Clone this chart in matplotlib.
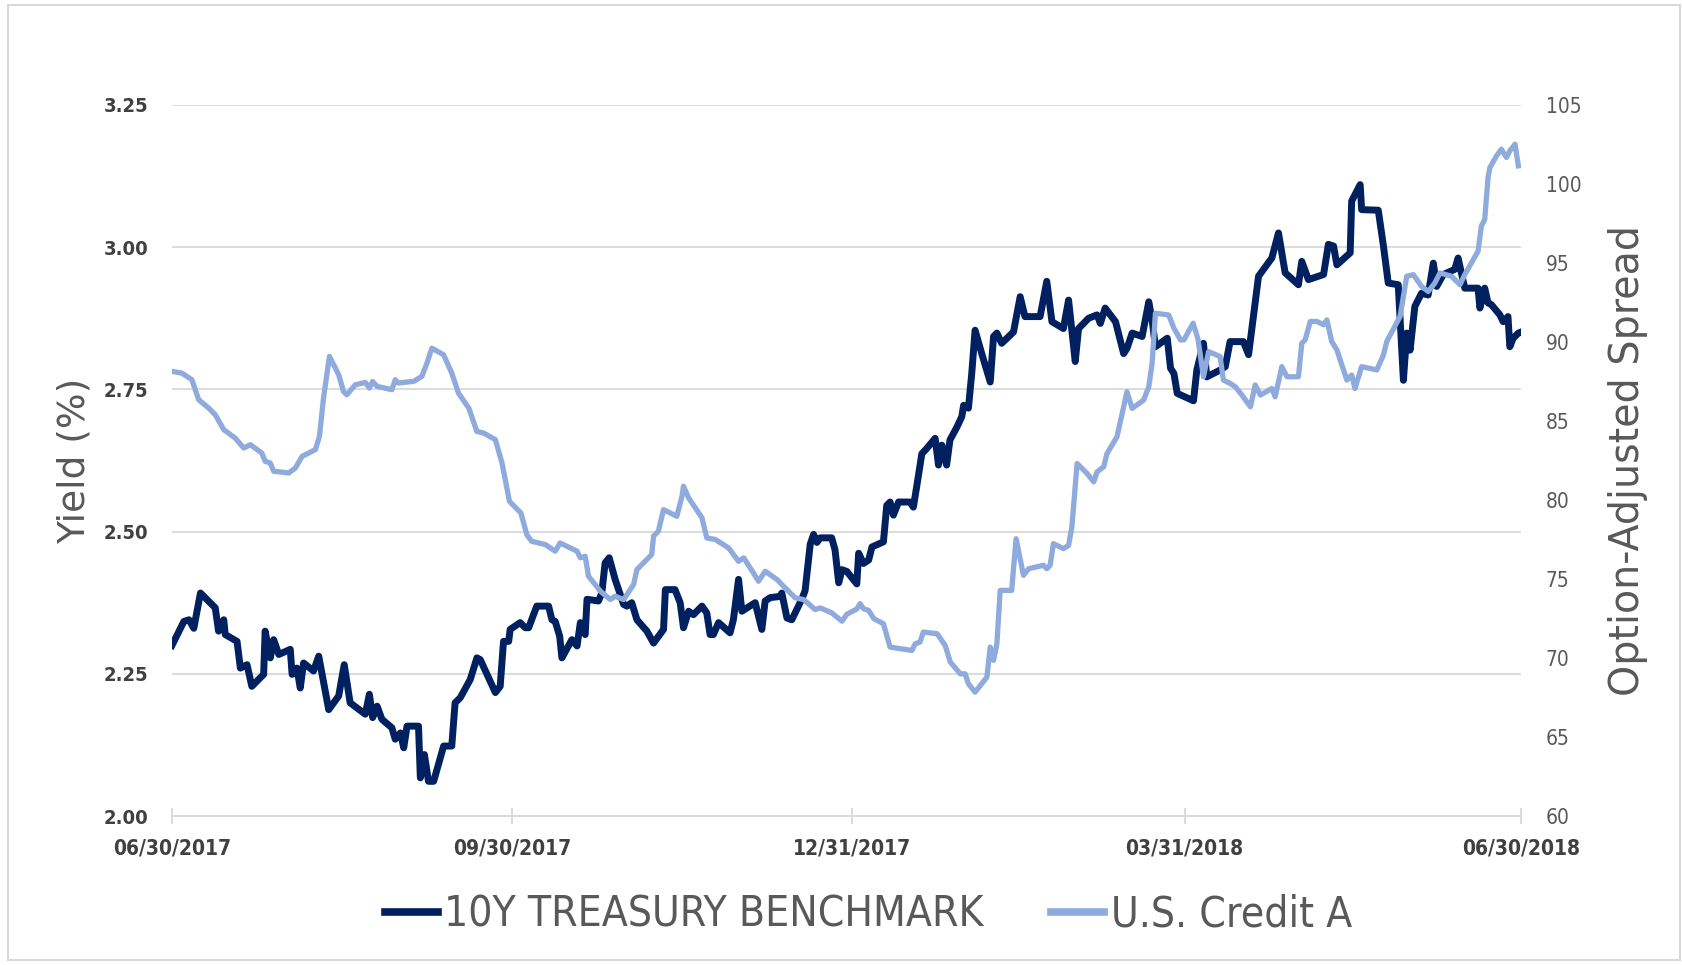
import matplotlib
matplotlib.use("Agg")
import matplotlib.pyplot as plt
import matplotlib.dates as mdates
from matplotlib.patches import Rectangle
import pandas as pd

# days after 06/30/2017 and values
tsy_days = [0, 3.2, 4.6, 5.9, 7.7, 11.7, 12.6, 14, 14.4, 17.6, 18.5, 20.3, 21.6, 24.8, 25.2,
            26.6, 27.5, 28.9, 32, 32.5, 33.8, 34.7, 35.6, 38.3, 39.7, 42.4, 45.1, 46.6, 48.2,
            52.3, 53.4, 54.3, 55.5, 56.8, 59.5, 60.4, 61.8, 62.7, 63.6, 66.7, 67.2, 68.3, 69.4,
            70.8, 73.5, 75.7, 76.6, 78, 80.7, 82.5, 83.4, 87.5, 88.8, 89.7, 91.1, 91.5, 94.2,
            95.6, 96.5, 98.7, 101.9, 102.8, 103.7, 104.9, 105.5, 108.2, 109.6, 110.5, 111.8,
            112.3, 115.4, 116.3, 117.2, 118.3, 119.9, 122.2, 123.1, 124.4, 125.8, 128.5, 130.3,
            133, 133.5, 136.1, 137.5, 138.4, 139.8, 141.1, 143.4, 144.7, 145.6, 146.5, 147.9,
            151, 151.9, 153.3, 154.2, 157.8, 159.6, 160.5, 161.9, 164.6, 165, 166.4, 167.7,
            170.4, 171.3, 172.7, 173.6, 174.5, 175.4, 178.5, 179.4, 180.4, 181.3, 182.6, 185.3,
            185.8, 187.1, 188.5, 189.4, 192.5, 193.4, 194.3, 195.2, 196.6, 199.7, 200.6, 201.5,
            202.9, 204.2, 206.5, 207.4, 208.3, 209.6, 210.5, 212.4, 213.7, 214.2, 215.5, 216.4,
            217.3, 219.1, 221.4, 222.3, 223.2, 224.5, 227.7, 229.5, 230.8, 234.9, 236.7, 238.1,
            241.2, 242.6, 244.4, 245.3, 248, 250.3, 251.2, 252.5, 255.3, 257.5, 258.4, 259.8,
            262.5, 264.3, 265.2, 266.1, 269.3, 270.2, 271.1, 272, 276.4, 277.3, 279.1, 280,
            283.6, 285, 286.3, 289.9, 291.3, 294, 297.6, 299.4, 301.2, 304.8, 305.7, 307.5,
            311.6, 312.9, 314.3, 315.2, 318.8, 319.2, 321.5, 321.9, 326.4, 327.8, 329.1, 331.8,
            333.2, 334.1, 335, 336.3, 338.1, 339.9, 341.3, 342.2, 344, 347.1, 348, 349.8, 353.4,
            353.9, 355.2, 356.1, 357, 359.3, 360.2, 361.5, 362, 362.9, 364.3, 364.7]
tsy_yield = [2.30, 2.342, 2.345, 2.33, 2.392, 2.366, 2.325, 2.345, 2.319, 2.307, 2.26, 2.266,
             2.228, 2.249, 2.325, 2.278, 2.31, 2.284, 2.293, 2.249, 2.26, 2.225, 2.269, 2.255,
             2.281, 2.187, 2.211, 2.266, 2.199, 2.179, 2.214, 2.173, 2.193, 2.17, 2.155, 2.135,
             2.146, 2.12, 2.158, 2.158, 2.067, 2.108, 2.061, 2.061, 2.123, 2.123, 2.199, 2.208,
             2.24, 2.278, 2.275, 2.217, 2.228, 2.307, 2.307, 2.328, 2.34, 2.331, 2.331, 2.369,
             2.369, 2.345, 2.342, 2.316, 2.278, 2.31, 2.299, 2.34, 2.319, 2.381, 2.378, 2.392,
             2.445, 2.454, 2.416, 2.372, 2.369, 2.375, 2.345, 2.325, 2.304, 2.328, 2.398, 2.398,
             2.375, 2.331, 2.36, 2.354, 2.369, 2.357, 2.319, 2.319, 2.34, 2.322, 2.345, 2.416,
             2.36, 2.375, 2.328, 2.378, 2.384, 2.386, 2.392, 2.348, 2.345, 2.381, 2.396, 2.478,
             2.495, 2.481, 2.489, 2.489, 2.468, 2.41, 2.433, 2.43, 2.408, 2.462, 2.444, 2.45,
             2.473, 2.482, 2.546, 2.552, 2.529, 2.552, 2.552, 2.543, 2.579, 2.637, 2.646, 2.664,
             2.617, 2.652, 2.617, 2.661, 2.684, 2.702, 2.722, 2.717, 2.778, 2.854, 2.813, 2.763,
             2.843, 2.849, 2.831, 2.851, 2.913, 2.878, 2.878, 2.94, 2.869, 2.857, 2.907, 2.799,
             2.857, 2.875, 2.881, 2.866, 2.893, 2.869, 2.813, 2.822, 2.849, 2.843, 2.904, 2.872,
             2.825, 2.84, 2.787, 2.778, 2.743, 2.73, 2.784, 2.831, 2.772, 2.784, 2.79, 2.834,
             2.834, 2.811, 2.949, 2.981, 3.025, 2.955, 2.934, 2.975, 2.943, 2.952, 3.005, 3.002,
             2.969, 2.99, 3.081, 3.11, 3.066, 3.065, 3.002, 2.937, 2.934, 2.766, 2.849, 2.819,
             2.896, 2.919, 2.916, 2.972, 2.931, 2.952, 2.961, 2.981, 2.928, 2.928, 2.893, 2.928,
             2.902, 2.899, 2.881, 2.869, 2.878, 2.825, 2.84, 2.849, 2.85]

oas_days = [0, 2.7, 5.4, 7.2, 9.9, 11.7, 14, 17.1, 19.4, 21.2, 24.3, 25.2, 26.6, 27.5, 31.6,
            33.4, 35.2, 38.8, 39.9, 41, 42.6, 45.1, 46.4, 47.3, 49.6, 52.3, 53.4, 54.3, 55.5,
            59.5, 60.4, 61.3, 62.7, 65.4, 67.6, 69, 70.3, 73.5, 75.7, 77.5, 80.3, 82.5, 84.3,
            87.5, 89.3, 91.3, 94.4, 96, 97.3, 101, 103.7, 105, 109.6, 110.5, 111.8, 112.7,
            115.9, 118.6, 119.9, 122.2, 124.9, 125.8, 129.8, 130.3, 131.6, 133, 136.6, 138,
            138.4, 139.8, 143.4, 144.7, 147, 150.6, 153.3, 154.7, 157.3, 158.7, 160.5, 163.7,
            165.9, 168.6, 170.9, 174, 175.4, 178.5, 181.3, 182.6, 185.3, 186.2, 187.1, 188.5,
            189.9, 192.5, 194.3, 200.2, 201.1, 202.4, 203.3, 207, 209.2, 210.6, 213.3, 214.6,
            215.5, 217.3, 220.5, 221.4, 222.3, 223.2, 224.1, 227.2, 228.4, 230.4, 231.8, 235.8,
            236.7, 237.6, 238.5, 241.2, 242.6, 243.5, 244.9, 247.6, 249.4, 250.3, 252.1, 253,
            255.7, 257.1, 258.4, 259.8, 262.9, 264.3, 265.2, 266.1, 269.7, 271.1, 272.9, 273.8,
            276.3, 277.6, 279.1, 280.5, 283.6, 284.5, 286.3, 287.7, 289.5, 291.8, 293.1, 294.5,
            297.6, 298.5, 300.3, 301.7, 304.8, 305.7, 306.6, 308, 309.8, 311.6, 312.5, 313.8,
            315.2, 317.9, 319.2, 320.1, 321.9, 326, 327.8, 328.7, 332.3, 334.1, 335.9, 338.1,
            339.9, 341.7, 343.1, 346.2, 348.5, 349.8, 352.1, 353.4, 354.3, 355.2, 356.1, 356.6,
            358.4, 359.7, 361.1, 362, 363.4, 364.3]
oas_spread = [88.14, 88.03, 87.61, 86.35, 85.82, 85.40, 84.45, 83.92, 83.29, 83.50, 82.97,
              82.45, 82.34, 81.82, 81.71, 82.03, 82.76, 83.19, 84.03, 86.45, 89.09, 87.93,
              86.87, 86.66, 87.29, 87.44, 87.08, 87.50, 87.19, 86.98, 87.61, 87.40, 87.44,
              87.51, 87.82, 88.67, 89.61, 89.19, 88.03, 86.77, 85.82, 84.34, 84.24, 83.82,
              82.34, 79.92, 79.18, 77.81, 77.39, 77.18, 76.76, 77.28, 76.76, 76.34, 76.44,
              75.18, 74.23, 73.70, 73.91, 73.70, 74.65, 75.60, 76.55, 77.71, 78.02, 79.39,
              78.97, 80.24, 80.87, 80.13, 78.87, 77.60, 77.50, 76.97, 76.12, 76.34, 75.39,
              74.86, 75.49, 74.97, 74.44, 73.81, 73.70, 73.07, 73.17, 72.86, 72.33, 72.77,
              73.10, 73.44, 73.12, 73.01, 72.49, 72.17, 70.69, 70.48, 70.90, 71.01, 71.64,
              71.54, 70.80, 69.74, 69.0, 69.0, 68.37, 67.84, 68.79, 70.69, 69.85, 70.90, 74.28,
              74.28, 77.55, 75.23, 75.65, 75.87, 75.65, 75.87, 77.24, 76.92, 77.13, 78.30,
              82.31, 81.68, 81.15, 81.78, 82.10, 82.94, 84.0, 85.48, 86.85, 85.80, 86.32, 87.17,
              88.65, 91.82, 91.71, 90.87, 90.13, 90.13, 91.19, 90.2, 87.80, 89.39, 89.08, 87.59,
              87.38, 87.17, 86.64, 85.90, 87.28, 86.64, 87.06, 86.53, 88.44, 87.80, 87.80,
              89.92, 90.13, 91.30, 91.30, 91.09, 91.40, 90.03, 89.50, 87.59, 87.91, 87.06,
              88.44, 88.23, 89.18, 90.03, 91.62, 94.16, 94.26, 93.52, 93.20, 93.73, 94.37,
              94.16, 93.63, 94.26, 95.22, 95.75, 97.34, 97.76, 100.41, 101.04, 101.78, 102.20,
              101.68, 102.10, 102.52, 101.15]

start = pd.Timestamp("2017-06-30")
end = pd.Timestamp("2018-06-30")
tick_dates = ["2017-06-30", "2017-09-30", "2017-12-31", "2018-03-31", "2018-06-30"]
yield_ticks = [2.00, 2.25, 2.50, 2.75, 3.00, 3.25]
spread_ticks = [60, 65, 70, 75, 80, 85, 90, 95, 100, 105]

tsy_dates = start + pd.to_timedelta(tsy_days, unit="D")
oas_dates = start + pd.to_timedelta(oas_days, unit="D")

DARK = "#002060"
LIGHT = "#8FAADC"
GRID = "#D9D9D9"
FONT = ["DejaVu Sans"]

fig = plt.figure(figsize=(16.83, 9.65), dpi=100)
ax = fig.add_axes([0.1022, 0.1544, 0.8015, 0.7368])
ax2 = ax.twinx()

l1, = ax.plot(tsy_dates, tsy_yield, color=DARK, lw=5.0, solid_joinstyle="round",
              label="10Y TREASURY BENCHMARK")
l2, = ax2.plot(oas_dates, oas_spread, color=LIGHT, lw=3.8, solid_joinstyle="round",
               label="U.S. Credit A")

ax.set_xlim(start, end)
ax.set_ylim(2.0, 3.25)
ax2.set_ylim(60, 105)
ax.set_yticks(yield_ticks)
ax2.set_yticks(spread_ticks)
ax.set_xticks(pd.to_datetime(tick_dates))
ax.xaxis.set_major_formatter(mdates.DateFormatter("%m/%d/%Y"))
ax.yaxis.set_major_formatter(plt.FuncFormatter(lambda v, p: f"{v:.2f}"))

ax.grid(axis="y", color=GRID, lw=1.3)
ax.set_axisbelow(True)
for a in (ax, ax2):
    for side in ("top", "left", "right"):
        a.spines[side].set_visible(False)
    a.spines["bottom"].set_color(GRID)
    a.spines["bottom"].set_linewidth(1.3)

ax.tick_params(axis="y", length=0, pad=17)
ax2.tick_params(axis="y", length=0, pad=18)
ax.tick_params(axis="x", direction="inout", length=12, width=1.3, color=GRID, pad=10)

for lab in ax.get_yticklabels():
    lab.set_family(FONT)
    lab.set_fontweight("bold")
    lab.set_fontsize(14.5)
    lab.set_fontstretch("condensed")
    lab.set_color("#404040")
for lab in ax.get_xticklabels():
    lab.set_family(FONT)
    lab.set_fontweight("bold")
    lab.set_fontsize(15)
    lab.set_fontstretch("condensed")
    lab.set_color("#404040")
for lab in ax2.get_yticklabels():
    lab.set_family(FONT)
    lab.set_fontsize(15)
    lab.set_fontstretch("condensed")
    lab.set_color("#595959")

ax.set_ylabel("Yield (%)", fontsize=27, color="#595959", labelpad=8)
ax2.set_ylabel("Option-Adjusted Spread", fontsize=28.5, color="#595959", labelpad=19)

leg = fig.legend(handles=[l1, l2], loc="center", bbox_to_anchor=(0.516, 0.052), ncol=2,
                 frameon=False, handlelength=1.25, handletextpad=0.15, columnspacing=1.6,
                 prop={"family": FONT, "size": 30.5, "stretch": "condensed"})
for t in leg.get_texts():
    t.set_color("#595959")
for h in leg.legend_handles:
    h.set_linewidth(5.5)

fig.patches.append(Rectangle((0.0045, 0.005), 0.994, 0.9895, transform=fig.transFigure,
                             fill=False, edgecolor=GRID, lw=1.5))

fig.savefig("out.png", dpi=100)
